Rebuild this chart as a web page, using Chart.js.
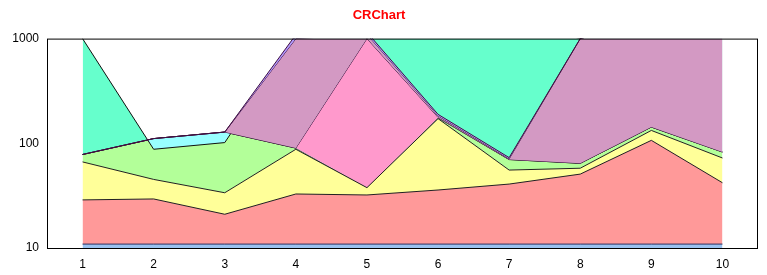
<!DOCTYPE html>
<html>
<head>
<meta charset="utf-8">
<script src="https://cdn.jsdelivr.net/npm/chart.js@4/dist/chart.umd.min.js"></script>
<style>
  html, body { margin: 0; padding: 0; background: #fff; }
  canvas { display: block; }
</style>
</head>
<body>
<canvas id="chart" width="767" height="275"></canvas>
<script>
const categories = ['1', '2', '3', '4', '5', '6', '7', '8', '9', '10'];
const yTicks = [10, 100, 1000];

// top edge of each coloured band (log axis, values above 1000 are clipped)
const blueTop   = [10.9, 10.9, 10.9, 10.9, 10.9, 10.9, 10.9, 10.9, 10.9, 10.9];
const redTop    = [28.8, 29.4, 21.0, 32.8, 32.1, 35.8, 40.8, 50.8, 106.7, 42];
const yellowTop = [66.4, 45.2, 33.7, 87.7, 37.7, 172, 55.5, 57.8, 132.7, 72.4];
const greenTop  = [78.2, 110.9, 128, 90, 37.7, 175, 70, 64.4, 142.9, 82.6];
const tealTop   = [1000, 87.7, 101.6, 1060, 1500, 1500, 1500, 1000, 1500, 1500];
const pinkTop   = [78.2, 110.9, 128, 90, 1000, 177, 70, 64.4, 142.9, 82.6];
const mauveTop  = [78.2, 110.9, 128, 1000, 1100, 183, 71, 1000, 1500, 1500];
const violetTop = [78.2, 110.9, 128, 1090, 1150, 189, 73, 1000, 1500, 1500];

function band(data, fill, bg, line, order) {
  return {
    data: data,
    fill: fill,
    backgroundColor: bg,
    borderColor: line,
    borderWidth: 1,
    pointRadius: 0,
    tension: 0,
    order: order
  };
}

const plotBorder = {
  id: 'plotBorder',
  afterDatasetsDraw(chart) {
    const { ctx, chartArea } = chart;
    ctx.save();
    ctx.strokeStyle = '#000';
    ctx.lineWidth = 1;
    ctx.strokeRect(chartArea.left + 0.5, chartArea.top + 0.5,
      chartArea.right - chartArea.left - 1, chartArea.bottom - chartArea.top);
    ctx.restore();
  }
};

const font = { family: 'Arial, "Liberation Sans"', size: 12 };

new Chart(document.getElementById('chart'), {
  type: 'line',
  data: {
    labels: categories,
    datasets: [
      band(blueTop, 'start', '#99C2F0', '#303060', 1),
      band(redTop, 0, '#FF9999', '#202020', 2),
      band(yellowTop, 1, '#FFFF99', '#202020', 3),
      band(greenTop, 2, '#B3FF99', '#202020', 9),
      band(tealTop, { target: 3, above: '#66FFCC', below: '#99FFFF' }, '#66FFCC', '#101010', 8),
      band(pinkTop, 3, '#FF99CC', '#401040', 7),
      band(mauveTop, 5, '#D399C3', '#401040', 6),
      band(violetTop, 6, '#B399FF', '#401040', 5)
    ]
  },
  options: {
    responsive: false,
    animation: false,
    devicePixelRatio: 1,
    layout: { padding: { right: 9, top: 0, bottom: 0, left: 0 } },
    plugins: {
      legend: { display: false },
      tooltip: { enabled: false },
      title: {
        display: true,
        text: 'CRChart',
        color: '#FF0000',
        font: { family: 'Arial, "Liberation Sans"', size: 13, weight: 'bold' },
        padding: { top: 8, bottom: 15 }
      }
    },
    scales: {
      x: {
        offset: true,
        grid: { display: false, drawTicks: false },
        border: { display: false },
        ticks: { color: '#000', padding: 9, maxRotation: 0, font: font },
        afterFit(scale) { scale.height = 27; }
      },
      y: {
        type: 'logarithmic',
        min: 10,
        max: 1000,
        grid: { display: false, drawTicks: false },
        border: { display: false },
        ticks: { color: '#000', padding: 8, font: font, callback: v => String(v) },
        afterBuildTicks(scale) { scale.ticks = yTicks.map(v => ({ value: v })); },
        afterFit(scale) { scale.width = 47; }
      }
    }
  },
  plugins: [plotBorder]
});
</script>
</body>
</html>
